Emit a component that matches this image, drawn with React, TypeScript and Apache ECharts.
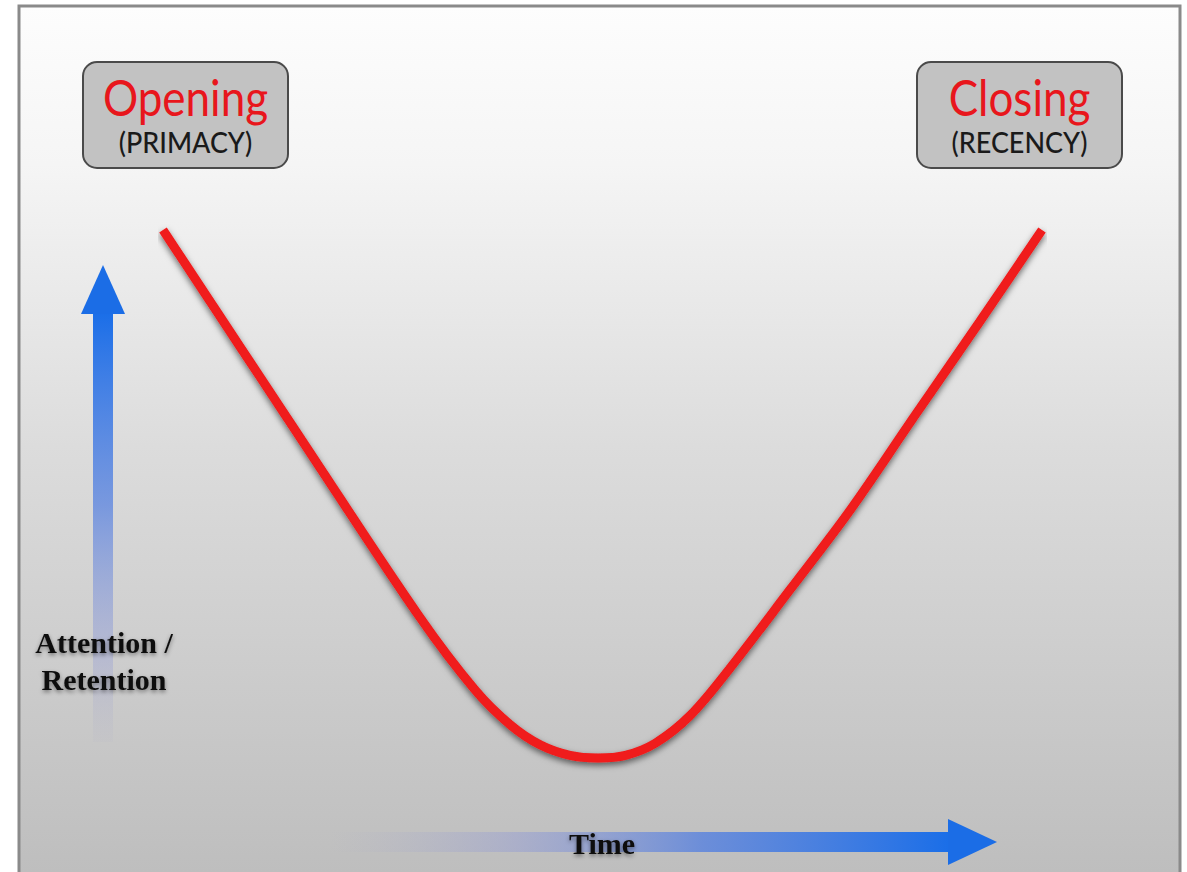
import React, { useEffect, useRef } from "react";
import * as echarts from "echarts";

// Serial position curve: time (0..100) vs attention / retention (0..100)
const timePoints = [0, 15.8, 29.2, 35.5, 39.5, 42.9, 46.3, 49.5, 52.6, 56.0, 60.0, 64.5, 71.3, 78.2, 85.6, 92.9, 100];
const attentionValues = [100, 60.2, 26.7, 12.9, 6.3, 2.5, 0.5, 0, 0.5, 2.8, 8.1, 17.0, 31.8, 47.0, 65.0, 82.6, 100];

const boxTitles = ["Opening", "Closing"];
const boxSubtitles = ["(PRIMACY)", "(RECENCY)"];
const yAxisLabel = ["Attention /", "Retention"];
const xAxisLabel = "Time";

export default function App() {
  const ref = useRef<HTMLDivElement>(null);

  useEffect(() => {
    if (!ref.current) return;
    const chart = echarts.init(ref.current, undefined, { renderer: "svg" });
    const data = timePoints.map((t, i) => [t, attentionValues[i]]);

    const box = (x: number, title: string, sub: string) => ({
      type: "group",
      children: [
        {
          type: "rect",
          shape: { x, y: 62, width: 205, height: 106, r: 14 },
          style: { fill: "#c2c2c2", stroke: "#4a4a4a", lineWidth: 2 },
          z: 10,
        },
        {
          type: "text",
          x: x + 102.5,
          y: 97,
          scaleX: 0.88,
          style: {
            text: title,
            fill: "#e8161c",
            font: '50px Lato',
            align: "center",
            verticalAlign: "middle",
          },
          z: 11,
        },
        {
          type: "text",
          x: x + 102.5,
          y: 142,
          scaleX: 0.93,
          style: {
            text: sub,
            fill: "#1a1a1a",
            font: '500 29px Lato',
            align: "center",
            verticalAlign: "middle",
          },
          z: 11,
        },
      ],
    });

    const shadowText = (text: string, x: number, y: number) => ({
      type: "text",
      z: 12,
      x,
      y,
      style: {
        text,
        fill: "#111",
        font: 'bold 30px "Liberation Serif"',
        align: "center",
        verticalAlign: "middle",
        textShadowColor: "rgba(0,0,0,0.45)",
        textShadowBlur: 4,
        textShadowOffsetY: 2,
      },
    });

    const option: any = {
      animation: false,
      backgroundColor: "#ffffff",
      grid: { left: 163, right: 145, top: 230, bottom: 114 },
      xAxis: { type: "value", min: 0, max: 100, show: false },
      yAxis: { type: "value", min: 0, max: 100, show: false },
      graphic: [
        {
          type: "rect",
          z: -10,
          shape: { x: 19, y: 6, width: 1161, height: 880 },
          style: {
            fill: new echarts.graphic.LinearGradient(0, 0, 0, 1, [
              { offset: 0, color: "#fdfdfd" },
              { offset: 0.18, color: "#f5f5f5" },
              { offset: 0.5, color: "#dcdcdc" },
              { offset: 1, color: "#bdbdbd" },
            ]),
            stroke: "#8a8a8a",
            lineWidth: 3,
          },
        },
        box(83, boxTitles[0], boxSubtitles[0]),
        box(917, boxTitles[1], boxSubtitles[1]),
        // vertical arrow
        {
          type: "rect",
          z: 5,
          shape: { x: 93, y: 312, width: 20, height: 430 },
          style: {
            fill: new echarts.graphic.LinearGradient(0, 0, 0, 1, [
              { offset: 0, color: "rgba(26,110,232,1)" },
              { offset: 0.45, color: "rgba(80,125,225,0.7)" },
              { offset: 0.8, color: "rgba(140,150,215,0.35)" },
              { offset: 1, color: "rgba(170,170,200,0.08)" },
            ]),
          },
        },
        {
          type: "polygon",
          z: 5,
          shape: { points: [[103, 265], [125, 314], [81, 314]] },
          style: { fill: "#1b6de6" },
        },
        // horizontal arrow
        {
          type: "rect",
          z: 5,
          shape: { x: 330, y: 832, width: 620, height: 20 },
          style: {
            fill: new echarts.graphic.LinearGradient(0, 0, 1, 0, [
              { offset: 0, color: "rgba(170,170,200,0)" },
              { offset: 0.3, color: "rgba(140,150,215,0.4)" },
              { offset: 0.6, color: "rgba(80,125,225,0.75)" },
              { offset: 1, color: "rgba(26,110,232,1)" },
            ]),
          },
        },
        {
          type: "polygon",
          z: 5,
          shape: { points: [[997, 842], [948, 819], [948, 865]] },
          style: { fill: "#1b6de6" },
        },
        shadowText(xAxisLabel, 602, 843),
        shadowText(yAxisLabel[0], 104, 642),
        shadowText(yAxisLabel[1], 104, 679),
      ],
      series: [
        {
          type: "line",
          data,
          smooth: 0.35,
          clip: false,
          showSymbol: false,
          symbol: "none",
          lineStyle: {
            color: "#f01a1a",
            width: 9,
            cap: "butt",
            shadowColor: "rgba(0,0,0,0.55)",
            shadowBlur: 6,
            shadowOffsetY: 3,
          },
          z: 3,
        },
      ],
    };
    chart.setOption(option);
    return () => chart.dispose();
  }, []);

  return (
    <div
      ref={ref}
      style={{ position: "fixed", left: 0, top: 0, width: 1187, height: 872 }}
    />
  );
}
